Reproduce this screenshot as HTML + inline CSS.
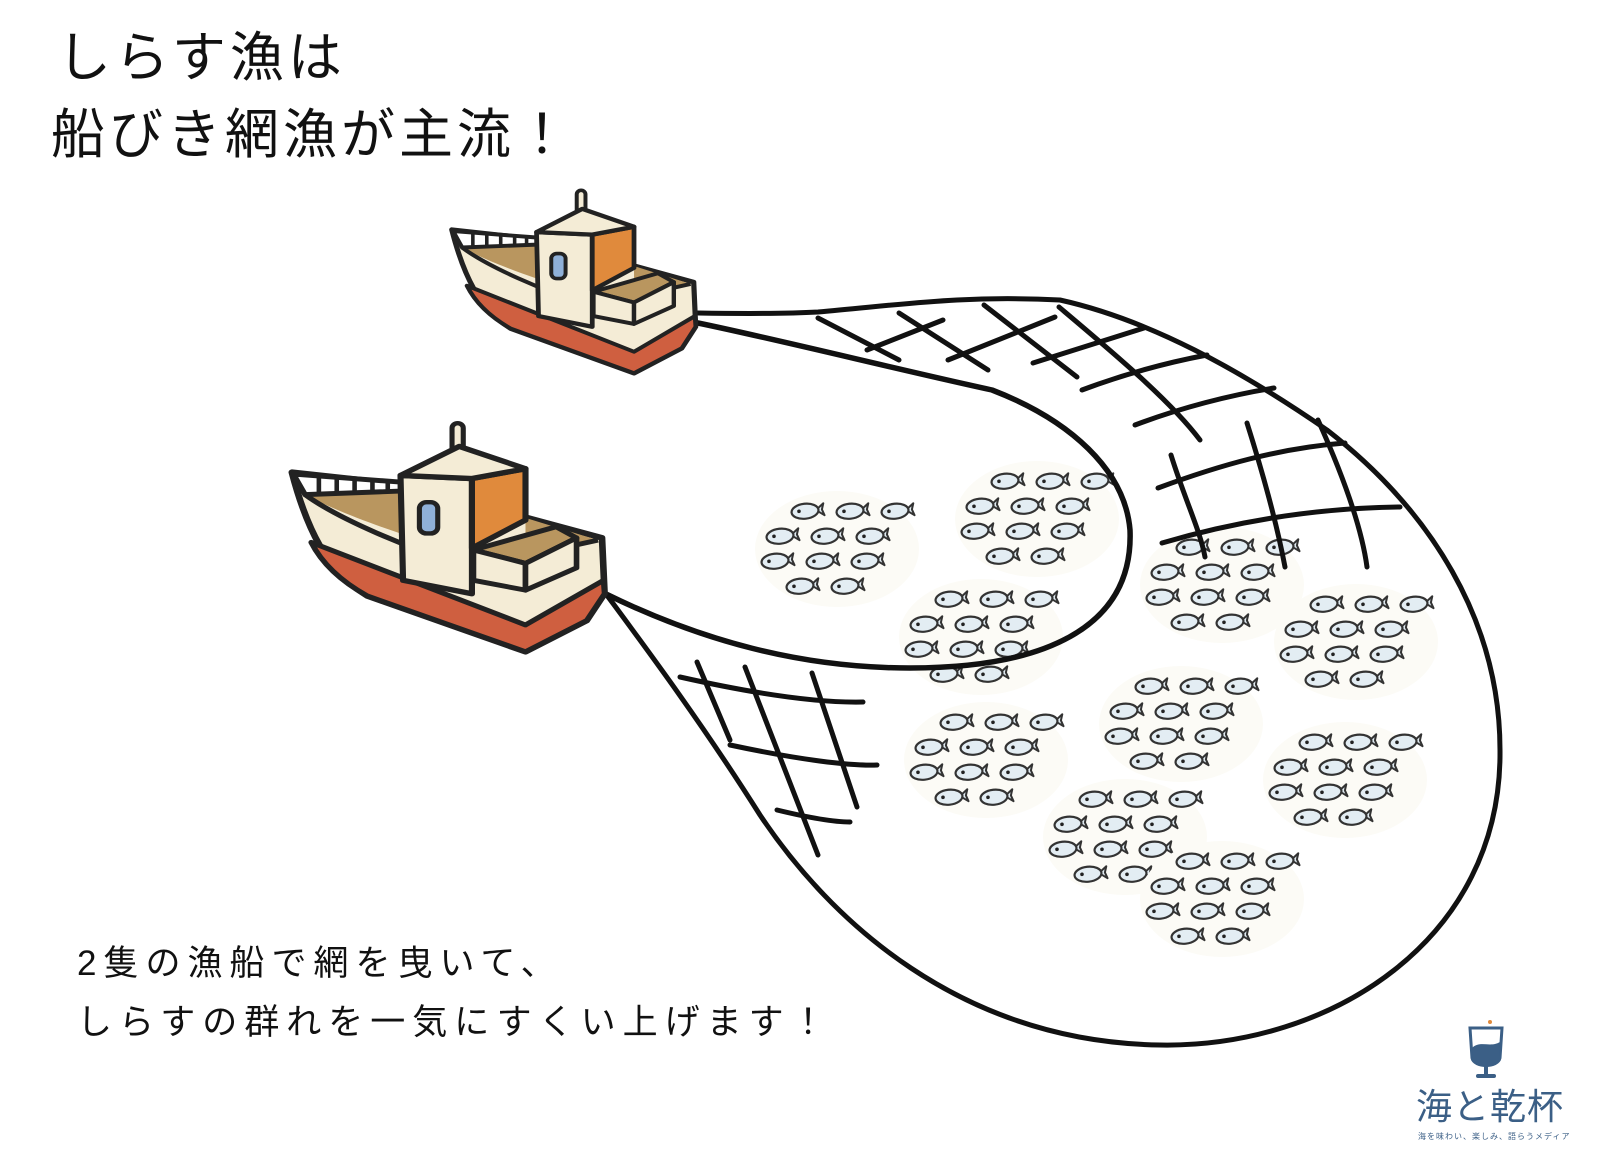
<!DOCTYPE html>
<html><head><meta charset="utf-8"><style>
html,body{margin:0;padding:0;background:#fff;}
body{width:1602px;height:1174px;position:relative;overflow:hidden;font-family:"Liberation Sans","Noto Sans CJK JP",sans-serif;}
.t{position:absolute;color:#111;white-space:nowrap;}
</style></head><body>
<svg width="1602" height="1174" viewBox="0 0 1602 1174" style="position:absolute;left:0;top:0">
<defs>
<g id="boat">
  <path d="M572,1058 L790,1085 L1180,1205 L1185,1330 L1150,1390 L1030,1460 L720,1335 C640,1280 600,1180 572,1058 Z" fill="#f4ecd6" stroke="#222" stroke-width="13" stroke-linejoin="round"/>
  <path d="M610,1215 L1030,1400 L1183,1300 L1185,1330 L1150,1390 L1030,1460 L720,1335 C665,1300 630,1260 610,1215 Z" fill="#cf5f40" stroke="#222" stroke-width="11" stroke-linejoin="round"/>
  <path d="M598,1108 L785,1100 L785,1195 C720,1170 650,1140 598,1108 Z" fill="#b9965f"/>
  <path d="M1030,1160 L1172,1210 L1085,1245 L1030,1220 Z" fill="#b9965f"/>
  <path d="M598,1108 C660,1160 800,1230 925,1272 L1172,1210" fill="none" stroke="#222" stroke-width="11"/>
  <path d="M575,1062 L785,1080 L785,1100 L598,1108 Z" fill="#fff" stroke="#222" stroke-width="11" stroke-linejoin="round"/>
  <g stroke="#222" stroke-width="9"><line x1="625" y1="1066" x2="625" y2="1106"/><line x1="660" y1="1069" x2="660" y2="1105"/><line x1="695" y1="1072" x2="695" y2="1104"/><line x1="730" y1="1075" x2="730" y2="1102"/><line x1="760" y1="1078" x2="760" y2="1101"/></g>
  <rect x="886" y="948" width="22" height="95" rx="11" fill="#f4ecd6" stroke="#222" stroke-width="10"/>
  <path d="M785,1065 L925,1072 L925,1330 L790,1300 Z" fill="#f4ecd6" stroke="#222" stroke-width="12" stroke-linejoin="round"/>
  <path d="M925,1072 L1030,1050 L1030,1165 L925,1228 Z" fill="#e08a3c" stroke="#222" stroke-width="12" stroke-linejoin="round"/>
  <path d="M785,1065 L900,1000 L1030,1050 L925,1072 Z" fill="#f4ecd6" stroke="#222" stroke-width="12" stroke-linejoin="round"/>
  <path d="M928,1232 L1090,1180 L1130,1205 L1030,1262 Z" fill="#b9965f" stroke="#222" stroke-width="11" stroke-linejoin="round"/>
  <path d="M928,1232 L1030,1262 L1030,1322 L928,1300 Z" fill="#f4ecd6" stroke="#222" stroke-width="11" stroke-linejoin="round"/>
  <path d="M1030,1262 L1130,1205 L1130,1272 L1030,1322 Z" fill="#f4ecd6" stroke="#222" stroke-width="11" stroke-linejoin="round"/>
  <rect x="822" y="1125" width="36" height="70" rx="14" fill="#8fb0d8" stroke="#222" stroke-width="10"/>
</g>
<g id="fish">
  <path d="M9,0 L17,-6 L15,0 L17,6 Z" fill="#e3edf3" stroke="#333" stroke-width="2" stroke-linejoin="round"/>
  <ellipse cx="-2" cy="0" rx="13.5" ry="7.5" fill="#e3edf3" stroke="#333" stroke-width="2.2"/>
  <circle cx="-8" cy="-0.5" r="1.8" fill="#222"/>
</g>
</defs>

<g id="schools"></g>

<g fill="none" stroke="#111" stroke-width="5" stroke-linecap="round">
  <!-- outer -->
  <path d="M698,313 C760,314 800,313 818,312 C900,305 960,295 1060,300 C1150,320 1240,370 1327,430 C1430,510 1500,620 1500,750 C1502,940 1330,1048 1160,1045 C960,1042 830,920 760,815 C700,720 640,640 606,594"/>
  <!-- inner loop -->
  <path d="M698,323 C780,340 900,370 992,390 C1070,420 1125,470 1130,530 C1134,630 1040,668 910,668 C800,668 700,640 606,594" stroke-width="5.5"/>
  <!-- top mesh -->
  <path d="M867,350 L943,320"/><path d="M948,360 L1055,317"/><path d="M1033,363 L1144,328"/>
  <path d="M1082,390 C1130,372 1170,362 1207,355"/><path d="M1135,425 C1180,408 1230,395 1274,388"/>
  <path d="M1158,488 C1220,465 1280,448 1345,443"/><path d="M1162,543 C1240,520 1320,508 1400,507"/>
  <path d="M818,318 L899,360"/><path d="M899,313 L988,370"/><path d="M984,305 L1077,377"/>
  <path d="M1059,307 C1110,350 1170,400 1200,440"/>
  <path d="M1171,455 C1185,500 1200,530 1205,557"/><path d="M1247,423 C1265,480 1278,530 1285,567"/>
  <path d="M1318,420 C1345,480 1362,530 1367,567"/>
  <!-- lower mesh -->
  <path d="M680,677 C760,695 820,703 863,702"/><path d="M730,745 C800,760 850,766 877,765"/><path d="M777,810 C810,818 835,822 850,822"/>
  <path d="M697,662 L730,740"/><path d="M745,667 L818,855"/><path d="M812,673 L857,807"/>
</g>

<use href="#boat" transform="scale(0.5102,0.4464)"/>
<use href="#boat" transform="scale(0.5102,0.4464) translate(880,420) scale(0.78,0.8) translate(-565,-940)"/>

<!-- logo -->
<g transform="translate(1486,1052)">
  <path d="M-16,-24 L16,-24 L14,6 C12,16 -12,16 -14,6 Z" fill="#fff" stroke="#3b5f86" stroke-width="3"/>
  <path d="M-14,-4 C-6,-12 4,-4 14,-10 L13,6 C10,15 -10,15 -13,6 Z" fill="#3b5f86"/>
  <rect x="-2" y="12" width="4" height="10" fill="#3b5f86"/>
  <rect x="-10" y="22" width="20" height="4" rx="2" fill="#3b5f86"/>
  <circle cx="4" cy="-30" r="2" fill="#e08a3c"/>
</g>
</svg>

<div class="t" style="left:57px;top:28px;font-size:54px;letter-spacing:4px;line-height:60px;">しらす漁は</div>
<div class="t" style="left:51px;top:105px;font-size:54px;letter-spacing:4px;line-height:60px;">船びき網漁が主流！</div>
<div class="t" style="left:77px;top:944px;font-size:35px;letter-spacing:7px;line-height:40px;">2隻の漁船で網を曳いて、</div>
<div class="t" style="left:77px;top:1003px;font-size:35px;letter-spacing:7px;line-height:40px;">しらすの群れを一気にすくい上げます！</div>
<div class="t" style="left:1416px;top:1086px;font-size:36px;letter-spacing:1px;line-height:42px;color:#3b5f86;">海と乾杯</div>
<div class="t" style="left:1418px;top:1132px;font-size:8px;letter-spacing:1px;line-height:10px;color:#3b5f86;">海を味わい、楽しみ、語らうメディア</div>

<script>
(function(){
var ns="http://www.w3.org/2000/svg";
var g=document.getElementById("schools");
var C=[[837,549],[1037,519],[981,637],[1222,585],[1356,642],[986,760],[1181,724],[1345,780],[1125,837],[1222,899]];
var rows=[[-38,[-30,15,60]],[-13,[-55,-10,35]],[12,[-60,-15,30]],[37,[-35,10]]];
C.forEach(function(c){
  var e=document.createElementNS(ns,"ellipse");
  e.setAttribute("cx",c[0]);e.setAttribute("cy",c[1]);e.setAttribute("rx",82);e.setAttribute("ry",58);
  e.setAttribute("fill","#fcfbf6");g.appendChild(e);
  rows.forEach(function(r){r[1].forEach(function(x){
    var u=document.createElementNS(ns,"use");
    u.setAttribute("href","#fish");
    u.setAttribute("transform","translate("+(c[0]+x)+","+(c[1]+r[0])+") rotate(-6)");
    g.appendChild(u);
  });});
});
})();
</script>
</body></html>
